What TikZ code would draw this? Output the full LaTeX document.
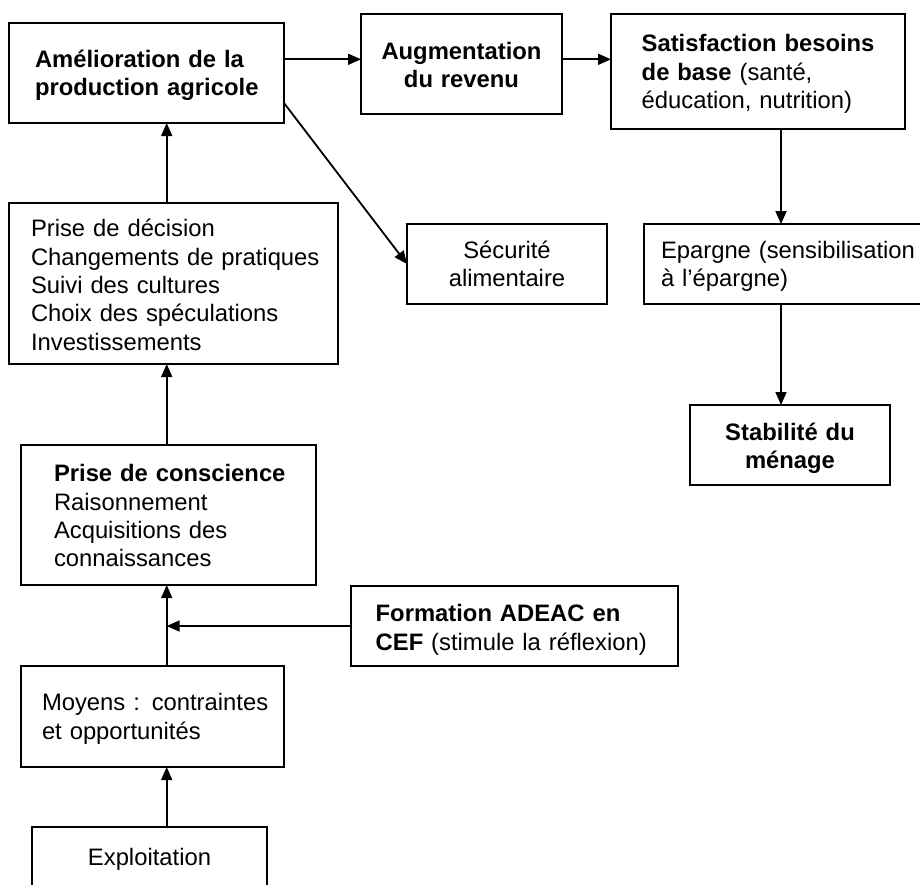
\documentclass[tikz,border=0pt]{standalone}
\usepackage{fontspec}
\setmainfont{Liberation Sans}
\usetikzlibrary{arrows.meta}
\begin{document}
\begin{tikzpicture}[x=1pt,y=-1pt,
  box/.style={draw, line width=1.8pt, rectangle, inner sep=0pt, outer sep=0pt},
  lt/.style={inner sep=0pt, outer sep=0pt, anchor=base west, align=left,
    font=\fontsize{23.8pt}{28.4pt}\selectfont, text width=330pt},
  ct/.style={inner sep=0pt, outer sep=0pt, anchor=base, align=center,
    font=\fontsize{23.8pt}{28.4pt}\selectfont, text width=260pt},
  arr/.style={line width=1.8pt, -{Triangle[length=13pt,width=11pt]}}]
\useasboundingbox (0,0) rectangle (920,884);
\begin{scope}
\clip (0,0) rectangle (920,884);
% boxes
\node[box, minimum width=275pt, minimum height=100pt] (b1) at (146.5,73) {};
\node[box, minimum width=201pt, minimum height=100pt] (b2) at (461.5,64) {};
\node[box, minimum width=294pt, minimum height=115pt] (b3) at (758,71.5) {};
\node[box, minimum width=329pt, minimum height=161pt] (b4) at (173.5,283.5) {};
\node[box, minimum width=200pt, minimum height=80pt] (b5) at (507,264) {};
\node[box, minimum width=296pt, minimum height=80pt] (b6) at (792,264) {};
\node[box, minimum width=200pt, minimum height=80pt] (b7) at (790,445) {};
\node[box, minimum width=295pt, minimum height=140pt] (b8) at (168.5,515) {};
\node[box, minimum width=327pt, minimum height=80pt] (b9) at (514.5,626) {};
\node[box, minimum width=263pt, minimum height=101pt] (b10) at (152.5,716.5) {};
\node[box, minimum width=235pt, minimum height=80pt] (b11) at (149.5,867) {};
% texts
\node[lt] (t1) at (35,67.5) {\textbf{Amélioration de la}\\\textbf{production agricole}};
\node[ct] (t2) at (461.5,59) {\textbf{Augmentation}\\\textbf{du revenu}};
\node[lt] (t3) at (641.7,51.7) {\textbf{Satisfaction besoins}\\\textbf{de base} (santé,\\éducation, nutrition)};
\node[lt] (t4) at (31,236.7) {Prise de décision\\Changements de pratiques\\Suivi des cultures\\Choix des spéculations\\Investissements};
\node[ct] (t5) at (507,258) {Sécurité\\alimentaire};
\node[lt] (t6) at (661,258) {Epargne (sensibilisation\\à l’épargne)};
\node[ct] (t7) at (790,440) {\textbf{Stabilité du}\\\textbf{ménage}};
\node[lt] (t8) at (54,481.7) {\textbf{Prise de conscience}\\Raisonnement\\Acquisitions des\\connaissances};
\node[lt] (t9) at (375.7,621.7) {\textbf{Formation ADEAC en}\\\textbf{CEF} (stimule la réflexion)};
\node[lt] (t10) at (42,710.7) {Moyens : contraintes\\et opportunités};
\node[ct] (t11) at (149.5,865) {Exploitation};
% helper coordinates
\coordinate (sp) at (166.7,0);
\coordinate (rc) at (781,0);
\coordinate (row1) at (0,59.3);
\coordinate (rowd) at (0,103);
% connectors
\draw[arr] (b1.east |- row1) -- (b2.west |- row1);
\draw[arr] (b2.east |- row1) -- (b3.west |- row1);
\draw[arr] (b1.east |- rowd) -- (b5.west);
\draw[arr] (b3.south -| rc) -- (b6.north -| rc);
\draw[arr] (b6.south -| rc) -- (b7.north -| rc);
\draw[arr] (b4.north -| sp) -- (b1.south -| sp);
\draw[arr] (b8.north -| sp) -- (b4.south -| sp);
\draw[arr] (b10.north -| sp) -- (b8.south -| sp);
\draw[arr] (b11.north -| sp) -- (b10.south -| sp);
\draw[arr] (b9.west) -- (b9.west -| sp);
\end{scope}
\end{tikzpicture}
\end{document}
